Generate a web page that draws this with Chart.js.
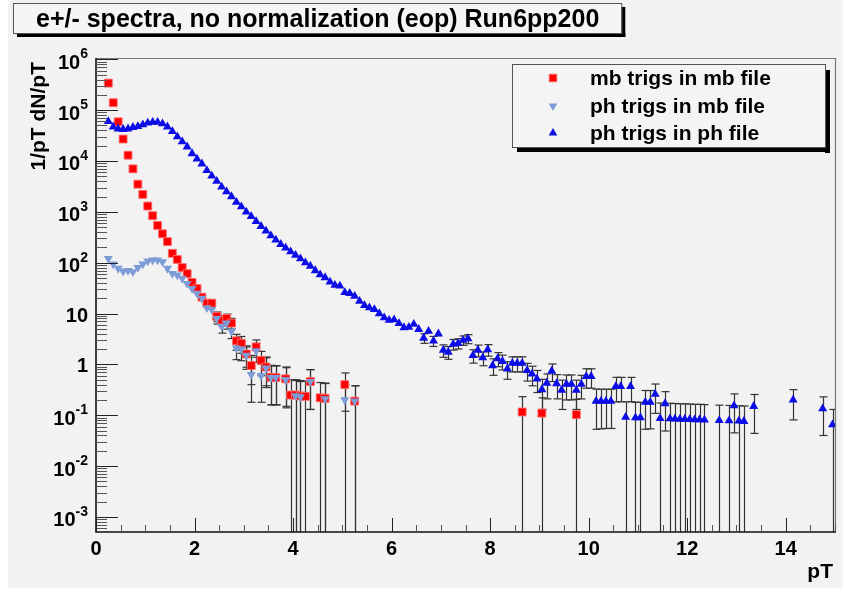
<!DOCTYPE html>
<html>
<head>
<meta charset="utf-8">
<script src="https://cdn.jsdelivr.net/npm/chart.js@4.4.1/dist/chart.umd.min.js"></script>
<style>
html,body{margin:0;padding:0;background:#ffffff;}
#wrap{width:843px;height:590px;position:relative;overflow:hidden;}
canvas{display:block;}
</style>
</head>
<body>
<div id="wrap"><canvas id="c" width="843" height="590"></canvas></div>
<script>
// ---------------- data ----------------
const titleText = 'e+/- spectra, no normalization (eop) Run6pp200';
const xTitle = 'pT';
const yTitle = '1/pT dN/pT';
const seriesNames = ['mb trigs in mb file', 'ph trigs in mb file', 'ph trigs in ph file'];
const xTickLabels = [0, 2, 4, 6, 8, 10, 12, 14];
const yDecades = [-3, -2, -1, 0, 1, 2, 3, 4, 5, 6];

// mb trigs in mb file (red squares)
const mbX = [0.25,0.35,0.45,0.55,0.65,0.75,0.85,0.95,1.05,1.15,1.25,1.35,1.45,1.55,1.65,1.75,1.85,1.95,2.05,2.15,2.25,2.35,2.45,2.55,2.65,2.75,2.85,2.95,3.05,3.15,3.25,3.35,3.45,3.55,3.65,3.85,3.95,4.05,4.15,4.25,4.35,4.55,4.65,5.05,5.25,8.65,9.05,9.75];
const mbY = [340000,140000,59000,27000,13000,7000,3500,2200,1300,840,540,370,260,153,116,80,61,41,31,21,16,16,8.8,7.4,8.0,6.5,2.9,2.6,1.6,0.95,2.2,1.2,0.89,0.56,0.55,0.52,0.25,0.25,0.24,0.235,0.46,0.22,0.215,0.40,0.19,0.116,0.11,0.103];
const mbErr = [1166,632,362,221,141,97,64,48,35,27,21,16.6,13.4,9.9,8.4,6.8,5.7,4.6,3.9,3.1,2.67,2.6,1.9,1.7,1.74,1.54,1.0,0.94,0.72,0.55,0.82,0.6,0.51,0.4,0.39,0.37,0.25,0.25,0.24,0.235,0.33,0.22,0.215,0.28,0.19,0.116,0.11,0.103];

// ph trigs in mb file (light blue down triangles)
const phmbX = [0.25,0.35,0.45,0.55,0.65,0.75,0.85,0.95,1.05,1.15,1.25,1.35,1.45,1.55,1.65,1.75,1.85,1.95,2.05,2.15,2.25,2.35,2.45,2.55,2.65,2.75,2.85,2.95,3.05,3.15,3.25,3.35,3.45,3.55,3.65,3.85,4.05,4.15,4.35,4.65,5.05,5.25];
const phmbY = [121,94,77,68,70,66,80,94,108,113,113,104,77,61,57,49,39,31,25,20,13,12,8.0,5.6,6.5,4.5,2.1,2.0,1.5,0.63,1.85,0.6,0.85,0.55,0.55,0.5,0.24,0.23,0.46,0.21,0.2,0.19];
const phmbErr = [22,16.4,13,11,10.4,9.4,9.7,9.9,10.1,9.9,9.5,8.8,7.3,6.3,5.9,5.3,4.6,4.0,3.5,3.05,2.4,2.26,1.8,1.48,1.57,1.28,0.86,0.82,0.7,0.45,0.75,0.42,0.5,0.39,0.39,0.36,0.24,0.23,0.33,0.21,0.2,0.19];

// ph trigs in ph file (blue up triangles)
const phphX = [0.25,0.35,0.45,0.55,0.65,0.75,0.85,0.95,1.05,1.15,1.25,1.35,1.45,1.55,1.65,1.75,1.85,1.95,2.05,2.15,2.25,2.35,2.45,2.55,2.65,2.75,2.85,2.95,3.05,3.15,3.25,3.35,3.45,3.55,3.65,3.75,3.85,3.95,4.05,4.15,4.25,4.35,4.45,4.55,4.65,4.75,4.85,4.95,5.05,5.15,5.25,5.35,5.45,5.55,5.65,5.75,5.85,5.95,6.05,6.15,6.25,6.35,6.45,6.55,6.65,6.75,6.85,6.95,7.05,7.15,7.25,7.35,7.45,7.55,7.65,7.75,7.85,7.95,8.05,8.15,8.25,8.35,8.45,8.55,8.65,8.75,8.85,8.95,9.05,9.15,9.25,9.35,9.45,9.55,9.65,9.75,9.85,9.95,10.05,10.15,10.25,10.35,10.45,10.55,10.65,10.75,10.85,10.95,11.05,11.15,11.25,11.35,11.45,11.55,11.65,11.75,11.85,11.95,12.05,12.15,12.25,12.35,12.65,12.85,12.95,13.05,13.15,13.35,14.15,14.75,14.95];
const phphY = [60000,47000,43000,42000,43000,46000,48000,52000,56000,58000,58000,54000,47000,38000,30000,24000,19000,14000,11000,8800,6500,5100,4000,3100,2500,2000,1550,1260,1000,810,650,520,420,340,280,230,195,165,140,120,100,86,70,58,51,42,36,35,26,25,22,17.5,14.5,13,12,10,8.3,7.4,7.6,6.4,5.3,5.4,6.2,4.9,3.3,4.5,2.9,4.0,1.9,1.75,2.5,2.6,3.0,3.2,1.5,1.9,1.35,1.95,0.95,1.3,1.15,0.82,1.06,1.06,1.06,0.76,0.65,0.52,0.32,0.43,0.74,0.42,0.31,0.41,0.41,0.31,0.41,0.58,0.58,0.19,0.19,0.19,0.19,0.37,0.37,0.092,0.37,0.09,0.09,0.18,0.18,0.26,0.087,0.17,0.086,0.085,0.084,0.084,0.083,0.082,0.082,0.081,0.079,0.078,0.154,0.077,0.076,0.15,0.2,0.135,0.065];
const phphErr = [490,366,309,276,257,248,238,234,231,225,215,200,180,157,135,117,101,85,73,64,54,47,40,35,31,27,23,21,18,16,14,12.5,11,9.8,8.8,7.8,7.1,6.5,5.9,5.4,4.9,4.4,4.0,3.6,3.3,3.0,2.7,2.7,2.3,2.2,2.05,1.8,1.63,1.53,1.46,1.32,1.19,1.12,1.12,1.02,0.92,0.92,0.98,0.86,0.70,0.82,0.65,0.76,0.52,0.49,0.59,0.59,0.63,0.65,0.44,0.50,0.41,0.50,0.34,0.40,0.37,0.31,0.35,0.35,0.35,0.29,0.27,0.24,0.19,0.22,0.28,0.21,0.18,0.21,0.21,0.18,0.20,0.24,0.24,0.137,0.136,0.135,0.135,0.187,0.186,0.092,0.185,0.09,0.09,0.127,0.126,0.151,0.087,0.121,0.086,0.085,0.084,0.084,0.083,0.082,0.082,0.081,0.079,0.078,0.109,0.077,0.076,0.106,0.119,0.095,0.065];

// ---------------- styles ----------------
const FONT = '"Liberation Sans", Arial, Helvetica, sans-serif';
const RED = '#ff0000';
const LIGHTBLUE = '#7d9bd6';
const BLUE = '#0c0ce6';
const BG = '#f2f2f2';

function toXY(xs, ys) { return xs.map((x, i) => ({x: x, y: ys[i]})); }
const errSets = [[mbX, mbY, mbErr], [phmbX, phmbY, phmbErr], [phphX, phphY, phphErr]];

function drawMarker(c, kind, x, y) {
  c.beginPath();
  if (kind === 0) {
    c.rect(x - 3.8, y - 3.8, 7.6, 7.6);
    c.fillStyle = RED; c.fill();
    c.strokeStyle = 'rgba(255,110,110,0.9)'; c.lineWidth = 1; c.stroke();
  } else if (kind === 1) {
    c.moveTo(x - 4.3, y - 2.5); c.lineTo(x + 4.3, y - 2.5); c.lineTo(x, y + 5); c.closePath();
    c.fillStyle = LIGHTBLUE; c.fill();
  } else {
    c.moveTo(x - 4.3, y + 2.5); c.lineTo(x + 4.3, y + 2.5); c.lineTo(x, y - 5); c.closePath();
    c.fillStyle = BLUE; c.fill();
  }
}

const rootPlugin = {
  id: 'rootStyle',
  beforeDraw(chart) {
    const c = chart.ctx;
    c.save();
    c.fillStyle = '#ffffff'; c.fillRect(0, 0, 843, 590);
    c.fillStyle = BG; c.fillRect(8, 0, 835, 588);
    c.restore();
  },
  beforeDatasetsDraw(chart) {
    const c = chart.ctx, a = chart.chartArea;
    const xs = chart.scales.x, ys = chart.scales.y;
    c.save();
    c.beginPath(); c.rect(a.left, a.top, a.right - a.left, a.bottom - a.top); c.clip();
    c.strokeStyle = '#333333'; c.lineWidth = 1.2;
    errSets.forEach(([X, Y, E]) => {
      for (let i = 0; i < X.length; i++) {
        const px = Math.round(xs.getPixelForValue(X[i])) + 0.5;
        const hi = Y[i] + E[i], lo = Y[i] - E[i];
        const pyHi = ys.getPixelForValue(hi);
        const pyLo = lo > 0 ? ys.getPixelForValue(lo) : a.bottom + 2;
        if (pyLo - pyHi < 9) continue;
        c.beginPath(); c.moveTo(px, pyHi); c.lineTo(px, Math.min(pyLo, a.bottom + 2)); c.stroke();
        c.beginPath(); c.moveTo(px - 4, pyHi); c.lineTo(px + 4, pyHi); c.stroke();
        if (lo > 0 && pyLo < a.bottom) { c.beginPath(); c.moveTo(px - 4, pyLo); c.lineTo(px + 4, pyLo); c.stroke(); }
      }
    });
    c.restore();
  },
  afterDatasetsDraw(chart) {
    const c = chart.ctx, a = chart.chartArea;
    const xs = chart.scales.x, ys = chart.scales.y;
    c.save();
    // frame
    c.strokeStyle = '#777777'; c.lineWidth = 1.2;
    c.beginPath(); c.moveTo(a.left, a.top + 0.5); c.lineTo(a.right + 0.5, a.top + 0.5); c.lineTo(a.right + 0.5, a.bottom); c.stroke();
    c.strokeStyle = '#111111'; c.lineWidth = 1.6;
    c.beginPath(); c.moveTo(a.left, a.top); c.lineTo(a.left, a.bottom); c.lineTo(a.right + 1, a.bottom); c.stroke();
    // y ticks (inside, log)
    c.lineWidth = 1;
    for (let d = -4; d <= 6; d++) {
      for (let m = 1; m <= 9; m++) {
        const v = m * Math.pow(10, d);
        if (v < ys.min || v > ys.max) continue;
        const py = Math.round(ys.getPixelForValue(v)) + 0.5;
        c.strokeStyle = m === 1 ? '#222222' : '#555555';
        c.beginPath(); c.moveTo(a.left, py); c.lineTo(a.left + (m === 1 ? 22 : 11), py); c.stroke();
      }
    }
    // x ticks (inside)
    for (let k = 0; k <= 30; k++) {
      const v = k * 0.5;
      const px = Math.round(xs.getPixelForValue(v)) + 0.5;
      const major = (k % 4 === 0);
      c.strokeStyle = major ? '#222222' : '#555555';
      c.beginPath(); c.moveTo(px, a.bottom); c.lineTo(px, a.bottom - (major ? 14 : 7)); c.stroke();
    }
    // x tick labels
    c.fillStyle = '#000000';
    c.font = 'bold 20px ' + FONT; c.textAlign = 'center'; c.textBaseline = 'alphabetic';
    xTickLabels.forEach(v => { c.fillText(String(v), xs.getPixelForValue(v), 555); });
    // y tick labels
    yDecades.forEach(d => {
      const py = ys.getPixelForValue(Math.pow(10, d));
      const rx = 88;
      c.textAlign = 'right';
      if (d === 0 || d === 1) {
        c.font = 'bold 20px ' + FONT;
        c.fillText(d === 0 ? '1' : '10', rx, py + 8);
      } else {
        const e = String(d);
        c.font = 'bold 14px ' + FONT;
        const ew = c.measureText(e).width;
        c.fillText(e, rx, py - 1);
        c.font = 'bold 20px ' + FONT;
        c.fillText('10', rx - ew, py + 9.5);
      }
    });
    // axis titles
    c.font = 'bold 21px ' + FONT;
    c.textAlign = 'right';
    c.fillText(xTitle, 833, 578);
    c.save();
    c.translate(45, 62); c.rotate(-Math.PI / 2);
    c.textAlign = 'right';
    c.fillText(yTitle, 0, 0);
    c.restore();
    // title box
    c.font = 'bold 25px ' + FONT;
    const tw = c.measureText(titleText).width;
    const bx0 = 13, by0 = 3, bx1 = 36 + tw + 22, by1 = 33;
    c.fillStyle = '#000000';
    c.fillRect(bx0 + 4, by1, bx1 - bx0, 4);
    c.fillRect(bx1, by0 + 4, 4, by1 - by0);
    c.fillStyle = '#f5f5f5'; c.fillRect(bx0, by0, bx1 - bx0, by1 - by0);
    c.strokeStyle = '#555555'; c.lineWidth = 1; c.strokeRect(bx0 + 0.5, by0 + 0.5, bx1 - bx0, by1 - by0);
    c.fillStyle = '#000000'; c.textAlign = 'left';
    c.fillText(titleText, 36, 27);
    // legend
    const lx0 = 512, ly0 = 64, lx1 = 825, ly1 = 147;
    c.fillStyle = '#000000';
    c.fillRect(lx0 + 5, ly1, lx1 - lx0, 5);
    c.fillRect(lx1, ly0 + 6, 5, ly1 - ly0);
    c.fillStyle = '#f4f4f4'; c.fillRect(lx0, ly0, lx1 - lx0, ly1 - ly0);
    c.strokeStyle = '#555555'; c.lineWidth = 1; c.strokeRect(lx0 + 0.5, ly0 + 0.5, lx1 - lx0, ly1 - ly0);
    const rowsY = [78, 106, 133];
    c.font = 'bold 21px ' + FONT; c.textAlign = 'left';
    seriesNames.forEach((n, i) => {
      drawMarker(c, i, 553, rowsY[i]);
      c.fillStyle = '#000000';
      c.fillText(n, 590, rowsY[i] + 7);
    });
    c.restore();
  }
};

new Chart(document.getElementById('c'), {
  type: 'scatter',
  data: {
    datasets: [
      { label: seriesNames[0], data: toXY(mbX, mbY), pointStyle: 'rect', pointRadius: 5.6,
        backgroundColor: RED, borderColor: 'rgba(255,110,110,0.9)', borderWidth: 1, order: 3 },
      { label: seriesNames[1], data: toXY(phmbX, phmbY), pointStyle: 'triangle', rotation: 180, pointRadius: 5.2,
        backgroundColor: LIGHTBLUE, borderColor: LIGHTBLUE, borderWidth: 0, order: 2 },
      { label: seriesNames[2], data: toXY(phphX, phphY), pointStyle: 'triangle', pointRadius: 5.2,
        backgroundColor: BLUE, borderColor: BLUE, borderWidth: 0, order: 1 }
    ]
  },
  options: {
    responsive: false,
    animation: false,
    devicePixelRatio: 1,
    events: [],
    layout: { padding: { left: 96, top: 58, right: 8, bottom: 58 } },
    plugins: { legend: { display: false }, title: { display: false }, tooltip: { enabled: false } },
    scales: {
      x: { type: 'linear', min: 0, max: 15, display: false },
      y: { type: 'logarithmic', min: 5.06e-4, max: 1.06e6, display: false }
    }
  },
  plugins: [rootPlugin]
});
</script>
</body>
</html>
